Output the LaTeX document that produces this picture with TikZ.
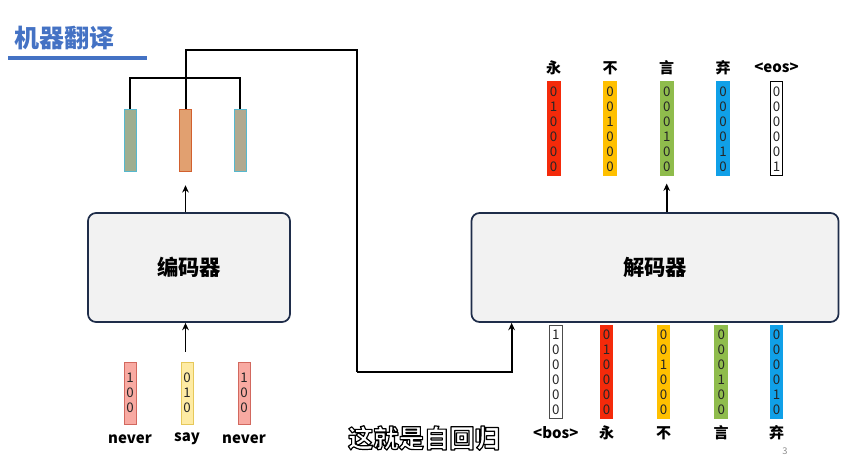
\documentclass[tikz,border=0pt]{standalone}
\usepackage{fontspec}
\setmainfont{Noto Sans CJK SC}
\usetikzlibrary{arrows.meta,positioning}
\definecolor{titleblue}{HTML}{4472C4}
\definecolor{boxgray}{HTML}{F2F2F2}
\definecolor{boxline}{HTML}{1F2D4A}
\definecolor{tokred}{HTML}{F42A0A}
\definecolor{tokyellow}{HTML}{FFC000}
\definecolor{tokgreen}{HTML}{8FBC4C}
\definecolor{tokblue}{HTML}{10A0E8}
\definecolor{inpink}{HTML}{F8AAA2}
\definecolor{inpinkd}{HTML}{D2685E}
\definecolor{inyellow}{HTML}{FEEBA4}
\definecolor{inyellowd}{HTML}{E6C85A}
\definecolor{hsage}{HTML}{9FAE90}
\definecolor{hcyan}{HTML}{55B8CE}
\definecolor{horange}{HTML}{E1A070}
\definecolor{horanged}{HTML}{D2602E}
\definecolor{htan}{HTML}{B1A98F}
% white letters with a black rim
\newcommand\rimtext[1]{\special{pdf:literal 2 Tr 1 j 0.9 w 0 G 1 g}#1\special{pdf:literal 0 Tr 1 w}}

\begin{document}
\begin{tikzpicture}[x=0.75pt,y=-0.75pt,
    coder/.style={draw=boxline, fill=boxgray, line width=1.3pt, rounded corners=6pt,
        minimum height=81.75pt, font=\fontsize{16}{18}\selectfont\bfseries},
    onehot/.style={draw, line width=0.6pt, minimum width=9.5pt, minimum height=70pt, inner sep=0pt},
    shortbar/.style={draw, line width=0.6pt, minimum width=9pt, minimum height=46.5pt, inner sep=0pt},
    digit/.style={font=\fontsize{10}{10}\selectfont, text=black!85, inner sep=0pt},
    word/.style={font=\fontsize{11.25}{13}\selectfont\bfseries, inner sep=0pt},
    link/.style={line width=1.5pt},
    arr/.style={line width=1.2pt, -{Stealth[length=5.5pt,width=5pt]}}]
    \useasboundingbox (0,0) rectangle (844,471);

    % title
    \node[font=\fontsize{18.75}{20}\selectfont\bfseries, text=titleblue] (title) at (65,38) {机器翻译};
    \draw[titleblue, line width=3pt] (8,58) -- (147,58);

    % encoder and decoder
    \node[coder, minimum width=151.5pt] (encoder) at (189,267.5) {编码器};
    \node[coder, minimum width=275.25pt] (decoder) at (655,267.5) {解码器};

    % input words
    \foreach \name/\xc/\col/\bd/\hot/\word in {in1/130/inpink/inpinkd/1/never,
        in2/187/inyellow/inyellowd/2/say, in3/244/inpink/inpinkd/1/never}{
        \node[shortbar, fill=\col, draw=\bd] (\name) at (\xc,393) {};
        \foreach \r in {1,2,3}
            \node[digit] at (\xc,363+15*\r) {\ifnum\r=\hot\relax 1\else 0\fi};
        \node[word] at (\xc,439) {\word};
    }

    % hidden states
    \node[shortbar, minimum height=47pt, fill=hsage, draw=hcyan] (h1) at (130,140.5) {};
    \node[shortbar, minimum height=47pt, fill=horange, draw=horanged] (h2) at (185.5,140.5) {};
    \node[shortbar, minimum height=47pt, fill=htan, draw=hcyan] (h3) at (240,140.5) {};

    % decoder outputs
    \foreach \name/\xc/\col/\bd/\hot/\word in {o1/553.6/tokred/tokred/2/永,
        o2/610/tokyellow/tokyellow/3/不, o3/666.7/tokgreen/tokgreen/4/言,
        o4/723/tokblue/tokblue/5/弃, o5/776.5/white/black/6/{<eos>}}{
        \node[onehot, fill=\col, draw=\bd] (\name) at (\xc,128.5) {};
        \foreach \r in {1,...,6}
            \node[digit] at (\xc,76.7+15*\r) {\ifnum\r=\hot\relax 1\else 0\fi};
        \node[word] at (\xc,68) {\word};
    }

    % decoder inputs
    \foreach \name/\xc/\col/\bd/\hot/\word in {d1/555.8/white/black!70/1/{<bos>},
        d2/606.5/tokred/tokred/2/永, d3/663.5/tokyellow/tokyellow/3/不,
        d4/721.2/tokgreen/tokgreen/4/言, d5/776.5/tokblue/tokblue/5/弃}{
        \node[onehot, fill=\col, draw=\bd] (\name) at (\xc,372) {};
        \foreach \r in {1,...,6}
            \node[digit] at (\xc,320+15*\r) {\ifnum\r=\hot\relax 1\else 0\fi};
        \node[word] at (\xc,433) {\word};
    }

    % connectors
    \coordinate (join) at (185.5,77.7);
    \coordinate (bend1) at (357,50);
    \coordinate (bend2) at (357,372);
    \draw[arr] ([yshift=7.5pt]in2.north -| h2.south) -- (encoder.south -| h2.south);
    \draw[arr] (encoder.north -| h2.south) -- ([yshift=-9.75pt]h2.south);
    \draw[link] (h1.north) |- (join) -| (h3.north);
    \draw[link] (h2.north) |- (bend1) -- (bend2);
    \draw[arr, line width=1.5pt] (bend2) -| ([xshift=30.75pt]decoder.south west);
    \draw[arr] (decoder.north -| o3.south) -- ([yshift=-6pt]o3.south);

    % caption
    \node[font=\fontsize{19}{21}\selectfont\bfseries, text=white] (caption) at (424,438) {\rimtext{这就是自回归}};
    \node[font=\fontsize{7}{8}\selectfont, text=black!45] (page) at (785,451) {3};
\end{tikzpicture}
\end{document}
